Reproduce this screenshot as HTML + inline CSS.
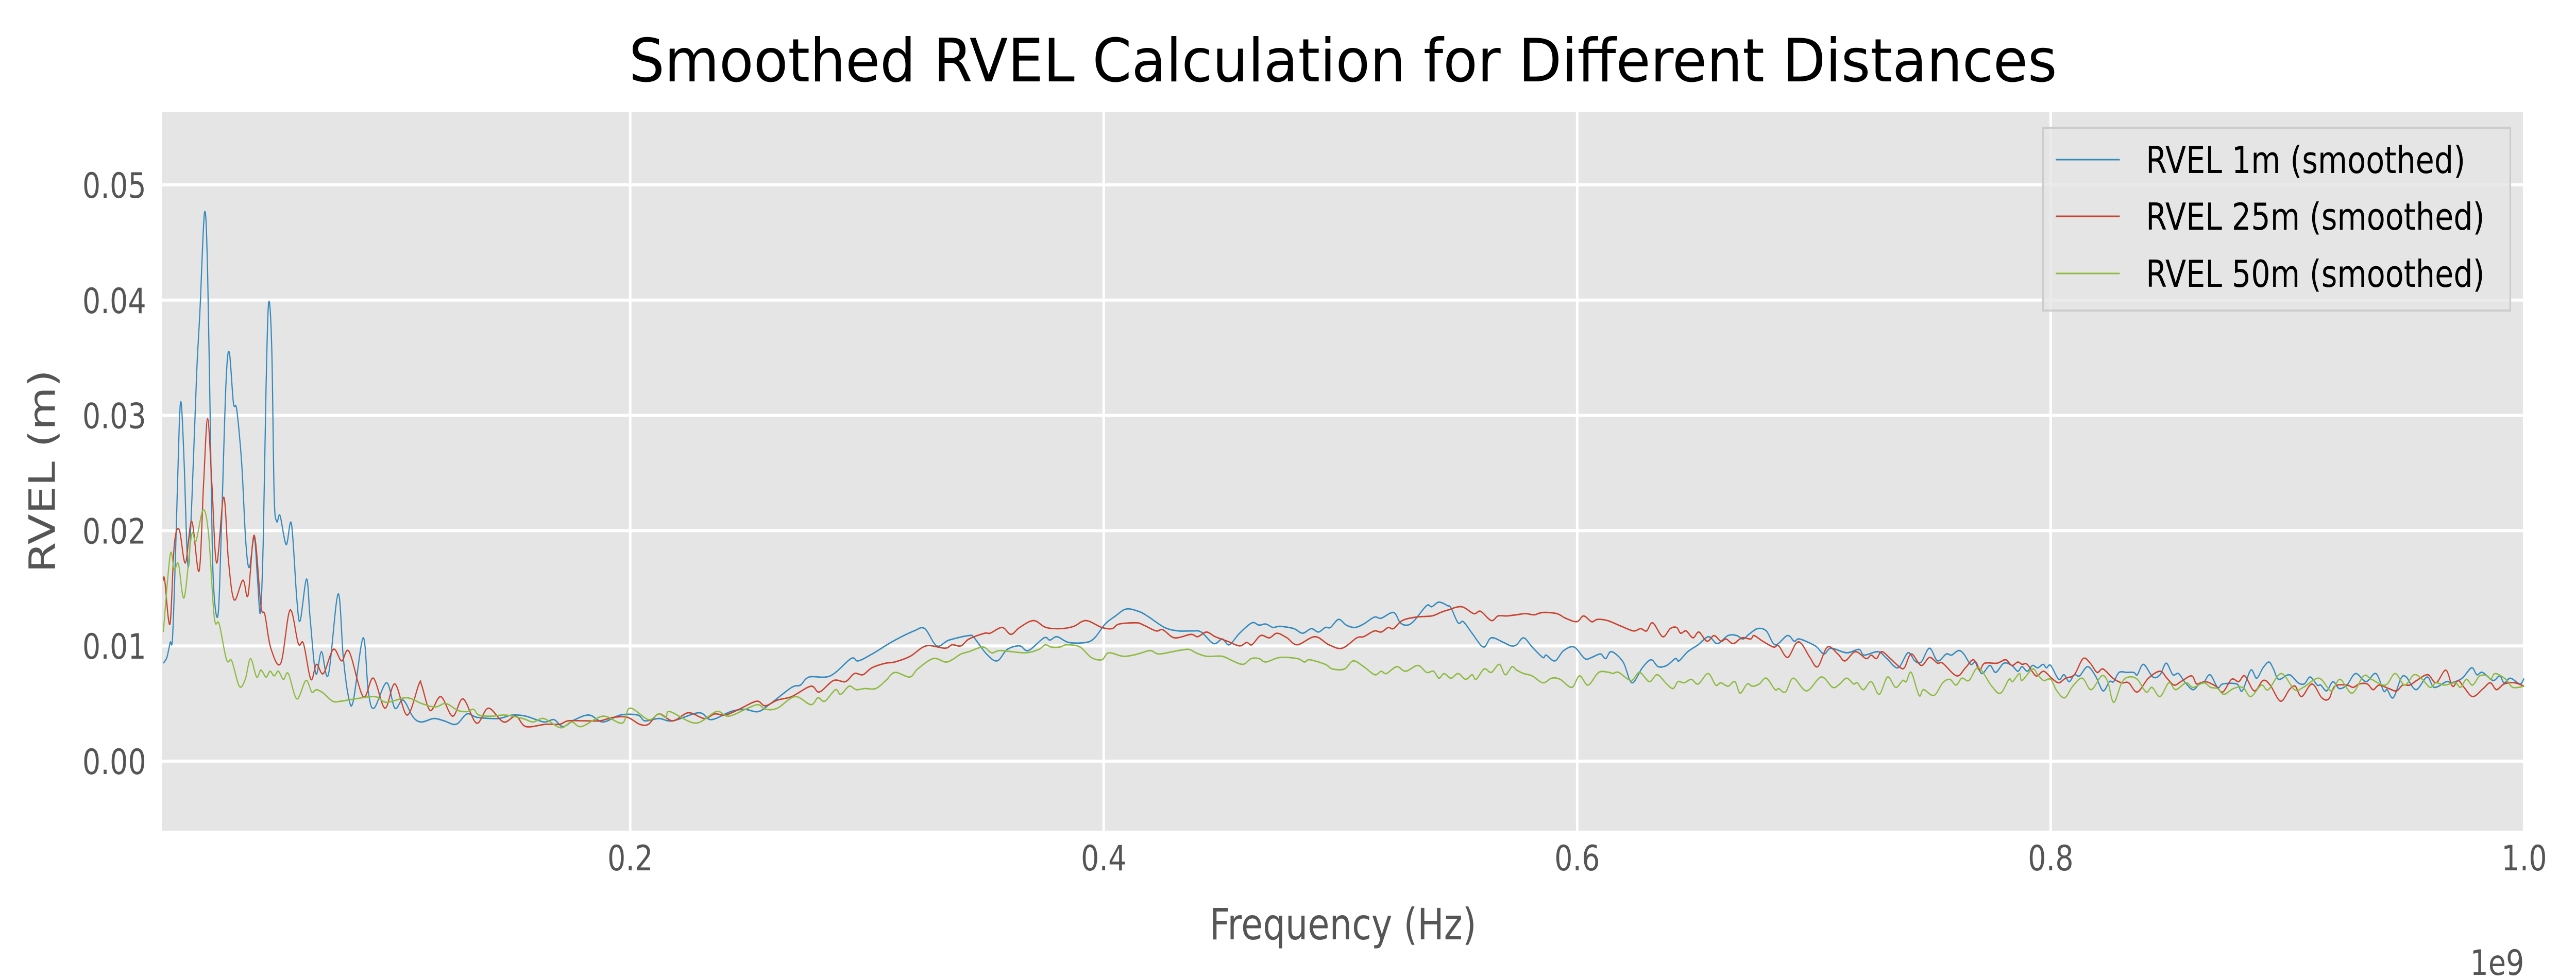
<!DOCTYPE html>
<html><head><meta charset="utf-8"><title>Smoothed RVEL</title>
<style>html,body{margin:0;padding:0;background:#fff;overflow:hidden;width:100vw;height:100vh;}svg{display:block;width:100vw;height:100vh;}</style></head>
<body>
<svg id="chart" xmlns="http://www.w3.org/2000/svg" viewBox="0 0 6115 1901" preserveAspectRatio="none" font-family="'DejaVu Sans','Liberation Sans',sans-serif">
<rect x="0" y="0" width="6115" height="1901" fill="#ffffff"/>
<rect x="384" y="217" width="5608" height="1396" fill="#E5E5E5"/>
<g id="grid"></g>
<g id="series"></g>
<g id="ticks"></g>
<text x="3188" y="158" text-anchor="middle" font-size="116" fill="#000" textLength="3390" lengthAdjust="spacingAndGlyphs">Smoothed RVEL Calculation for Different Distances</text>
<text x="3188" y="1824" text-anchor="middle" font-size="84" fill="#555555">Frequency (Hz)</text>
<text x="5992" y="1893" text-anchor="end" font-size="68" fill="#555555">1e9</text>
<text transform="translate(130,915) rotate(-90)" text-anchor="middle" font-size="86" fill="#555555">RVEL (m)</text>
<g>
<rect x="4850" y="248" width="1109" height="355" fill="#E5E5E5" fill-opacity="0.8" stroke="#CCCCCC" stroke-width="4"/>
<line x1="4880" y1="310" x2="5032" y2="310" stroke="#348ABD" stroke-width="3"/>
<text x="5094" y="336" font-size="72" fill="#000">RVEL 1m (smoothed)</text>
<line x1="4880" y1="420" x2="5032" y2="420" stroke="#C8432F" stroke-width="3"/>
<text x="5094" y="446" font-size="72" fill="#000">RVEL 25m (smoothed)</text>
<line x1="4880" y1="531" x2="5032" y2="531" stroke="#8EBA42" stroke-width="3"/>
<text x="5094" y="557" font-size="72" fill="#000">RVEL 50m (smoothed)</text>
</g>
</svg>
<script>
const xTicks=[0.2,0.4,0.6,0.8,1.0];
const xTickLabels=["0.2","0.4","0.6","0.8","1.0"];
const yTicks=[0,0.01,0.02,0.03,0.04,0.05];
const yTickLabels=["0.00","0.01","0.02","0.03","0.04","0.05"];

const blueF=[0.0028,0.0043,0.0057,0.0067,0.0081,0.0095,0.0104,0.0116,0.0132,0.0148,0.0169,0.0183,0.0202,0.0215,0.0229,0.0239,0.0259,0.0274,0.0292,0.0306,0.0324,0.0338,0.0359,0.0376,0.0391,0.0412,0.0426,0.0438,0.0450,0.0462,0.0473,0.0486,0.0496,0.0507,0.0521,0.0547,0.0569,0.0592,0.0606,0.0633,0.0648,0.0672,0.0696,0.0725,0.0766,0.0788,0.0810,0.0830,0.0872,0.0894,0.0918,0.0971,0.1006,0.1041,0.1084,
0.1119,0.117,0.1214,0.1265,0.1311,0.1354,0.1443,0.1501,0.156,0.1635,0.1678,0.1716,0.1766,0.1827,0.1885,0.1958,0.2032,0.2062,0.2121,0.218,0.229,0.2342,0.2424,0.2483,0.2541,0.2593,0.2682,0.2719,0.2756,0.2845,0.2933,0.2963,0.3022,0.311,0.3199,0.3244,0.3295,0.3346,
0.3431,0.3453,0.3505,0.355,0.3593,0.3645,0.3682,0.3748,0.3773,0.3803,0.3852,0.3925,0.3962,0.4006,0.405,0.4095,0.4147,0.4184,0.4257,0.4316,0.4375,0.4412,0.4464,0.4501,0.453,0.4574,0.4626,0.4656,0.4685,0.4715,0.4744,0.4803,0.484,0.4877,0.4907,0.4936,0.4958,0.4992,0.5025,0.5061,0.5098,0.5143,0.5172,0.5224,0.5253,0.5283,0.5312,0.5364,0.5386,0.5416,0.5452,0.5467,0.5497,0.5519,0.5556,0.5604,0.5637,0.5689,0.5721,
0.5744,0.5774,0.5810,0.5855,0.5869,0.5906,0.5943,0.5987,0.6032,0.6061,0.6098,0.6120,0.6145,0.6194,0.6231,0.6275,0.6312,0.6342,0.6378,0.6415,0.6430,0.6467,0.6511,0.6555,0.6592,0.6637,0.6674,0.6700,0.6725,0.6762,0.6799,0.6836,0.6888,0.6917,0.6939,0.7006,0.7042,0.7072,0.7138,0.719,0.7212,0.7271,0.7308,0.7355,0.7397,0.7426,0.7453,0.7488,0.7522,0.7559,0.7581,0.7611,0.7633,0.7662,0.7684,0.7709,0.7743,0.7768,0.7802,0.7836,0.7861,
0.7879,0.7901,0.7923,0.7945,0.7968,0.7982,0.8,0.8034,0.8056,0.8078,0.8100,0.8122,0.8156,0.8189,0.8221,0.8248,0.8266,0.8289,0.8322,0.8351,0.8366,0.8392,0.8432,0.8462,0.8488,0.8516,0.854,0.8569,0.8602,0.8631,0.8646,0.8673,0.8705,0.8727,0.8786,0.8809,0.8845,0.887,0.8897,0.8922,0.8941,0.8963,0.9008,0.9045,0.9071,0.9096,0.9126,0.9141,0.9166,0.9192,0.9219,0.9251,0.9288,0.9332,0.9374,0.9406,0.9421,0.9447,0.948,0.9502,0.9543,0.959,0.962,0.9672,0.9694,0.9738,0.9778,0.98,0.9824,0.9868,0.9897,0.9915,0.9942,0.9982,1.0];
const blueV=[0.0085,0.009,0.0103,0.0108,0.019,0.029,0.031,0.0258,0.0169,0.0224,0.0338,0.0392,0.0476,0.0425,0.0258,0.0157,0.0127,0.0207,0.0325,0.0355,0.0311,0.0305,0.0258,0.0191,0.0168,0.0194,0.0157,0.0129,0.0191,0.0325,0.0398,0.0358,0.0231,0.0208,0.0213,0.0188,0.0206,0.014,0.0122,0.0158,0.0124,0.0076,0.0095,0.0075,0.0145,0.009,0.0056,0.0052,0.0107,0.006,0.0046,0.0068,0.0046,0.0053,0.0038,
0.0034,0.0037,0.0035,0.0032,0.0041,0.0038,0.0037,0.004,0.0039,0.0034,0.0036,0.003,0.0036,0.004,0.0034,0.004,0.004,0.0035,0.0037,0.0035,0.0042,0.0036,0.0043,0.0045,0.0043,0.005,0.0064,0.0066,0.0073,0.0074,0.0089,0.0087,0.0093,0.0104,0.0113,0.0115,0.01,0.0105,
0.0109,0.0107,0.0093,0.0087,0.0097,0.01,0.0096,0.0107,0.0105,0.0108,0.0103,0.0103,0.0107,0.0119,0.0126,0.0132,0.013,0.0126,0.0116,0.0113,0.0113,0.0112,0.0102,0.0106,0.0101,0.0111,0.012,0.0118,0.0119,0.0116,0.0117,0.0115,0.0111,0.0115,0.0112,0.0116,0.0116,0.0123,0.0118,0.0116,0.0119,0.0125,0.0124,0.0129,0.012,0.0118,0.0122,0.0135,0.0134,0.0138,0.0135,0.0133,0.012,0.0121,0.0111,0.0099,0.0107,0.0103,0.01,
0.0101,0.0107,0.0099,0.009,0.0092,0.0087,0.0096,0.0099,0.0089,0.009,0.0093,0.0089,0.0095,0.0086,0.0068,0.0081,0.0088,0.0082,0.0083,0.0089,0.0087,0.0095,0.0101,0.0108,0.0102,0.0109,0.0109,0.0106,0.011,0.0115,0.0113,0.0101,0.0109,0.0104,0.0106,0.01,0.0093,0.0098,0.0094,0.0097,0.0092,0.0095,0.0089,0.0081,0.0094,0.0087,0.0086,0.0098,0.0087,0.0093,0.0092,0.0096,0.0093,0.0084,0.0086,0.0076,0.0083,0.0077,0.0085,0.0083,0.0078,
0.0082,0.0078,0.0083,0.0081,0.0084,0.0081,0.0083,0.0071,0.0075,0.0069,0.0075,0.0074,0.0082,0.0074,0.0061,0.0069,0.0069,0.0077,0.0077,0.0077,0.0075,0.0084,0.0073,0.0075,0.0085,0.0075,0.0076,0.0068,0.0062,0.0068,0.0068,0.0075,0.0064,0.0067,0.0067,0.0061,0.0079,0.0072,0.0081,0.0086,0.008,0.0071,0.0075,0.0068,0.0067,0.0073,0.0066,0.0066,0.0061,0.0069,0.0063,0.0066,0.0076,0.0069,0.0076,0.0061,0.0062,0.0055,0.0072,0.0073,0.0062,0.0073,0.0064,0.0069,0.0068,0.0072,0.0081,0.0075,0.0077,0.007,0.0074,0.0068,0.0072,0.0067,0.0072];

const redF=[0.0028,0.0034,0.0056,0.0074,0.0095,0.0121,0.0148,0.0179,0.0198,0.0215,0.0233,0.0253,0.0283,0.0303,0.0327,0.0364,0.0386,0.0412,0.0440,0.0457,0.0482,0.0524,0.0563,0.0598,0.0620,0.0651,0.0675,0.0704,0.0746,0.0781,0.0813,0.0872,0.0915,0.0964,0.1006,0.1058,0.1108,
0.1119,0.1155,0.12,0.125,0.1294,0.1351,0.1401,0.1465,0.1517,0.1559,0.1643,0.1702,0.1738,0.1812,0.1872,0.1929,0.1989,0.204,0.2077,0.2121,0.218,0.2246,0.2313,0.2357,0.2401,0.246,0.2534,0.257,0.2622,0.2682,0.2763,0.2799,0.2859,0.2909,0.2947,0.2983,0.3021,0.3079,0.3117,0.3183,0.325,0.333,0.336,0.3397,
0.3431,0.3497,0.352,0.3571,0.3608,0.3645,0.3704,0.3756,0.3822,0.3874,0.3925,0.3992,0.4036,0.4065,0.4139,0.4169,0.4221,0.425,0.4299,0.4368,0.4397,0.4434,0.4471,0.4523,0.4574,0.4604,0.4626,0.4663,0.47,0.4732,0.4774,0.4818,0.4892,0.4951,0.5007,0.5069,0.5098,0.5143,0.5172,0.5202,0.5224,0.5261,0.532,0.5386,0.5423,0.5452,0.5511,0.5563,0.5592,0.5637,0.5666,0.5703,
0.5744,0.5781,0.5818,0.5855,0.5914,0.5951,0.5998,0.6027,0.6061,0.6086,0.6128,0.6187,0.6238,0.6268,0.6293,0.6319,0.6361,0.6393,0.642,0.6437,0.6460,0.6489,0.6514,0.6548,0.6578,0.6607,0.6629,0.6659,0.6696,0.6733,0.6747,0.6784,0.6829,0.6851,0.6888,0.6924,0.6947,0.6983,0.7016,0.7057,0.7101,0.7131,0.7175,0.722,0.7242,0.7264,0.7286,0.7323,0.736,0.7382,0.7411,0.7453,0.7488,0.7522,0.7544,0.7603,0.7640,0.7674,0.7699,0.7721,0.7773,0.781,0.7836,0.7861,
0.7879,0.7901,0.7938,0.7970,0.8004,0.8034,0.8063,0.8100,0.8137,0.8167,0.8196,0.8221,0.8263,0.8299,0.8329,0.8366,0.8413,0.8462,0.8491,0.8521,0.855,0.8595,0.8617,0.8654,0.8698,0.8727,0.8764,0.8794,0.8820,0.886,0.8897,0.8927,0.8971,0.9008,0.9033,0.906,0.9104,0.9145,0.9175,0.92,0.9251,0.9278,0.9303,0.9337,0.9362,0.9387,0.9428,0.9461,0.9487,0.9517,0.9546,0.9593,0.9628,0.9669,0.9697,0.9721,0.9746,0.9783,0.9827,0.9857,0.9883,0.9915,0.996,1.0];
const redV=[0.0157,0.0157,0.0119,0.0187,0.0201,0.0172,0.0208,0.0165,0.0241,0.0297,0.0241,0.0172,0.0229,0.0174,0.014,0.0157,0.0144,0.0196,0.0135,0.0127,0.0098,0.0085,0.0131,0.0102,0.0102,0.0071,0.0084,0.0076,0.0097,0.0087,0.0095,0.0056,0.0072,0.0046,0.0067,0.004,0.0067,
0.0066,0.0044,0.0056,0.0039,0.0054,0.0033,0.0046,0.0034,0.0039,0.003,0.0032,0.0032,0.0035,0.0035,0.0035,0.0038,0.0038,0.0032,0.0032,0.0041,0.0035,0.0042,0.0037,0.0041,0.004,0.0045,0.0052,0.0048,0.0053,0.0056,0.0065,0.006,0.007,0.0069,0.0076,0.0075,0.0081,0.0085,0.0086,0.0091,0.01,0.0098,0.0101,0.01,
0.0106,0.0111,0.0111,0.0116,0.011,0.0116,0.0122,0.0116,0.0115,0.0117,0.0122,0.0116,0.0115,0.0119,0.012,0.0118,0.0113,0.0114,0.0107,0.011,0.0108,0.0112,0.0108,0.0104,0.01,0.0103,0.0101,0.0109,0.0107,0.0111,0.0107,0.0101,0.0108,0.0101,0.0098,0.0107,0.0108,0.0113,0.0112,0.0116,0.0115,0.0122,0.0125,0.0126,0.0129,0.0131,0.0134,0.0128,0.013,0.0122,0.0126,0.0126,
0.0127,0.0128,0.0127,0.0129,0.0128,0.0124,0.0121,0.0126,0.0121,0.0123,0.0122,0.0117,0.0113,0.0115,0.0113,0.012,0.0108,0.0115,0.0116,0.0111,0.0113,0.0107,0.0112,0.0104,0.0109,0.0104,0.0106,0.0102,0.0107,0.0106,0.0109,0.0104,0.0099,0.01,0.009,0.0102,0.0102,0.009,0.0082,0.0099,0.0093,0.0087,0.0095,0.0089,0.0092,0.0089,0.0095,0.0089,0.0082,0.0081,0.0093,0.0083,0.009,0.0085,0.0085,0.0074,0.0081,0.0088,0.0079,0.0085,0.0085,0.0088,0.0083,0.0086,
0.0084,0.0084,0.0074,0.0078,0.0072,0.0068,0.0072,0.0075,0.0089,0.0085,0.0077,0.008,0.0072,0.0068,0.0068,0.006,0.0072,0.0078,0.0072,0.0066,0.0069,0.0074,0.0067,0.0069,0.0065,0.006,0.0071,0.0069,0.0074,0.0061,0.007,0.0066,0.0052,0.0062,0.0065,0.0056,0.0067,0.0055,0.0054,0.0065,0.0066,0.0064,0.0067,0.0067,0.0062,0.0066,0.0063,0.0061,0.0066,0.0066,0.007,0.0075,0.0068,0.0079,0.0065,0.007,0.0064,0.0056,0.0063,0.0068,0.0062,0.0067,0.0068,0.0065];

const greenF=[0.0028,0.0057,0.0074,0.0092,0.0116,0.0147,0.0166,0.0196,0.0219,0.0243,0.0264,0.0295,0.0317,0.0349,0.0374,0.0396,0.0422,0.0440,0.0462,0.0479,0.0496,0.0514,0.0535,0.0556,0.0592,0.0630,0.0655,0.0675,0.0704,0.0743,0.0777,0.0837,0.0922,0.0971,0.1055,
0.1119,0.1177,0.1221,0.1272,0.131,0.1338,0.1361,0.1413,0.1473,0.1546,0.159,0.1635,0.1706,0.1752,0.1794,0.1885,0.1966,0.1999,0.2077,0.2119,0.2151,0.2168,0.2276,0.2364,0.2416,0.2497,0.2541,0.2571,0.2622,0.2696,0.2763,0.2793,0.2822,0.2867,0.2889,0.2925,0.2955,0.2991,0.3037,0.308,0.3118,0.3181,0.3214,0.328,0.3331,0.336,0.3397,
0.3431,0.349,0.3527,0.3564,0.3667,0.3726,0.3753,0.3778,0.3815,0.3844,0.39,0.3947,0.3992,0.4021,0.408,0.4124,0.4161,0.4198,0.4235,0.4316,0.436,0.4390,0.4434,0.45,0.4545,0.4589,0.4623,0.4656,0.4685,0.4744,0.4818,0.4848,0.487,0.4936,0.4966,0.5017,0.5054,0.5098,0.5145,0.5172,0.5194,0.5238,0.5275,0.5327,0.5364,0.5393,0.5416,0.5438,0.5467,0.5497,0.5529,0.5556,0.5573,0.5607,0.5637,0.5671,0.5696,0.5725,
0.5744,0.5774,0.5810,0.5855,0.5892,0.5928,0.5977,0.601,0.6046,0.6091,0.6135,0.615,0.6175,0.6228,0.6263,0.6305,0.6338,0.6378,0.6405,0.6426,0.6452,0.6482,0.6511,0.6553,0.6585,0.6607,0.6637,0.6666,0.6688,0.6718,0.674,0.6769,0.6799,0.6836,0.6851,0.6880,0.6913,0.6969,0.7031,0.7079,0.7109,0.7138,0.7168,0.7183,0.7209,0.7242,0.7276,0.7311,0.7345,0.7375,0.739,0.7411,0.7444,0.7463,0.7507,0.7544,0.7574,0.7600,0.7625,0.7655,0.7695,0.7751,0.7788,0.7824,0.7839,0.7868,
0.7879,0.7923,0.7945,0.797,0.8,0.8026,0.8059,0.8093,0.8133,0.8171,0.8215,0.8241,0.8266,0.83,0.8329,0.8366,0.8403,0.8428,0.8462,0.8499,0.8528,0.8572,0.8602,0.8646,0.8676,0.8705,0.8732,0.8772,0.8812,0.8845,0.889,0.8919,0.8974,0.903,0.9067,0.9133,0.9185,0.9222,0.9273,0.9322,0.9355,0.9414,0.9455,0.9495,0.9535,0.9569,0.9603,0.9628,0.9664,0.9709,0.9731,0.9756,0.9782,0.9812,0.9844,0.9859,0.9878,0.9923,0.9952,1.0];
const greenV=[0.0112,0.0179,0.0166,0.0171,0.0142,0.0196,0.0191,0.0218,0.0197,0.0125,0.0119,0.0088,0.0087,0.0065,0.0071,0.0089,0.0073,0.0079,0.0073,0.0078,0.0074,0.0078,0.0071,0.0076,0.0054,0.007,0.006,0.0062,0.0059,0.0052,0.0052,0.0054,0.0056,0.0051,0.0055,
0.005,0.0047,0.005,0.0044,0.0043,0.0045,0.004,0.0039,0.004,0.0037,0.0034,0.0037,0.0029,0.0034,0.003,0.0039,0.0033,0.0046,0.0036,0.0041,0.0038,0.0043,0.0033,0.0043,0.0039,0.0046,0.0049,0.0045,0.0046,0.0056,0.0049,0.0055,0.0052,0.0062,0.0058,0.0065,0.0062,0.0063,0.0063,0.007,0.0077,0.0073,0.008,0.0089,0.0086,0.0088,0.0093,
0.0095,0.0099,0.0094,0.0096,0.0094,0.0097,0.0101,0.0099,0.0099,0.0101,0.0099,0.009,0.0088,0.0094,0.0091,0.0092,0.0094,0.0096,0.0093,0.0096,0.0097,0.0094,0.0091,0.0091,0.0087,0.0084,0.0089,0.0089,0.0086,0.009,0.0089,0.0086,0.0088,0.0084,0.008,0.008,0.0087,0.0082,0.0075,0.0078,0.0076,0.0082,0.0078,0.0083,0.0077,0.0078,0.0072,0.0076,0.0072,0.0076,0.0071,0.0075,0.0071,0.008,0.0077,0.0084,0.0075,0.0082,
0.0079,0.0076,0.0074,0.0068,0.0072,0.0071,0.0064,0.0074,0.0066,0.0077,0.0077,0.0076,0.0077,0.007,0.0077,0.0069,0.0075,0.0067,0.0063,0.0069,0.0068,0.0071,0.0067,0.0076,0.0066,0.0068,0.0065,0.0069,0.0059,0.0067,0.0065,0.0067,0.0072,0.0062,0.0063,0.006,0.0072,0.0061,0.0073,0.0064,0.0067,0.0072,0.0067,0.0068,0.0062,0.0069,0.0058,0.0073,0.0064,0.007,0.0069,0.0077,0.0057,0.0062,0.0057,0.0068,0.0071,0.0066,0.0072,0.007,0.0081,0.0065,0.0059,0.0071,0.0069,0.0076,
0.007,0.008,0.0075,0.007,0.0071,0.0061,0.0055,0.0065,0.0072,0.0062,0.0074,0.0069,0.0051,0.0068,0.0073,0.0071,0.006,0.0064,0.0056,0.0068,0.0062,0.0068,0.0064,0.0068,0.0064,0.0063,0.0058,0.0063,0.0064,0.0056,0.0066,0.0062,0.0076,0.0062,0.0064,0.0072,0.0061,0.0071,0.0059,0.0074,0.0071,0.0066,0.0076,0.0066,0.0075,0.0071,0.0064,0.0068,0.0066,0.0068,0.0064,0.0071,0.0066,0.0074,0.0074,0.0071,0.0076,0.0071,0.0064,0.0065];

const NS="http://www.w3.org/2000/svg";
const PL=384,PR=5992,PT=217,PB=1613;
function xScale(f){return 1496+(f-0.2)*5620;}
function yScale(v){return 1478-v*22380;}

const grid=document.getElementById('grid');
yTicks.forEach(function(t,i){
  const l=document.createElementNS(NS,'line');
  
  
  l.setAttribute('x1',PL);l.setAttribute('x2',PR);
  l.setAttribute('y1',yScale(t));l.setAttribute('y2',yScale(t));
  l.setAttribute('stroke','#ffffff');l.setAttribute('stroke-width','6');
  grid.appendChild(l);
});
xTicks.forEach(function(t,i){
  const l=document.createElementNS(NS,'line');
  
  
  l.setAttribute('x1',xScale(t));l.setAttribute('x2',xScale(t));
  l.setAttribute('y1',PT);l.setAttribute('y2',PB);
  l.setAttribute('stroke','#ffffff');l.setAttribute('stroke-width','6');
  grid.appendChild(l);
});
const ticks=document.getElementById('ticks');
yTicks.forEach(function(t,i){
  const tx=document.createElementNS(NS,'text');
  
  
  tx.setAttribute('x',347);tx.setAttribute('y',yScale(t)+25);
  tx.setAttribute('text-anchor','end');tx.setAttribute('font-size','68');tx.setAttribute('fill','#555555');
  tx.textContent=yTickLabels[i];
  ticks.appendChild(tx);
});
xTicks.forEach(function(t,i){
  const tx=document.createElementNS(NS,'text');
  
  
  tx.setAttribute('x',xScale(t));tx.setAttribute('y',1690);
  tx.setAttribute('text-anchor','middle');tx.setAttribute('font-size','68');tx.setAttribute('fill','#555555');
  tx.textContent=xTickLabels[i];
  ticks.appendChild(tx);
});

function smoothPath(F,V){
  const p=F.map(function(f,i){return [xScale(f),yScale(V[i])];});
  let d='M'+p[0][0].toFixed(1)+','+p[0][1].toFixed(1);
  for(let i=0;i<p.length-1;i++){
    const p0=p[i-1]||p[i],p1=p[i],p2=p[i+1],p3=p[i+2]||p[i+1];
    const c1x=p1[0]+(p2[0]-p0[0])/6,c1y=p1[1]+(p2[1]-p0[1])/6;
    const c2x=p2[0]-(p3[0]-p1[0])/6,c2y=p2[1]-(p3[1]-p1[1])/6;
    d+='C'+c1x.toFixed(1)+','+c1y.toFixed(1)+' '+c2x.toFixed(1)+','+c2y.toFixed(1)+' '+p2[0].toFixed(1)+','+p2[1].toFixed(1);
  }
  return d;
}
const sg=document.getElementById('series');
const clip=document.createElementNS(NS,'clipPath');clip.setAttribute('id','pc');
const cr=document.createElementNS(NS,'rect');cr.setAttribute('x',PL);cr.setAttribute('y',PT);cr.setAttribute('width',PR-PL);cr.setAttribute('height',PB-PT);
clip.appendChild(cr);document.getElementById('chart').appendChild(clip);
sg.setAttribute('clip-path','url(#pc)');
function addLine(F,V,color,name){
  const path=document.createElementNS(NS,'path');
  
  
  path.setAttribute('d',smoothPath(F,V));
  path.setAttribute('fill','none');path.setAttribute('stroke',color);
  path.setAttribute('stroke-width','2.8');path.setAttribute('stroke-linejoin','round');
  sg.appendChild(path);
}
addLine(blueF,blueV,'#348ABD','line-rvel-1m');
addLine(redF,redV,'#C8432F','line-rvel-25m');
addLine(greenF,greenV,'#8EBA42','line-rvel-50m');
</script>
</body></html>
